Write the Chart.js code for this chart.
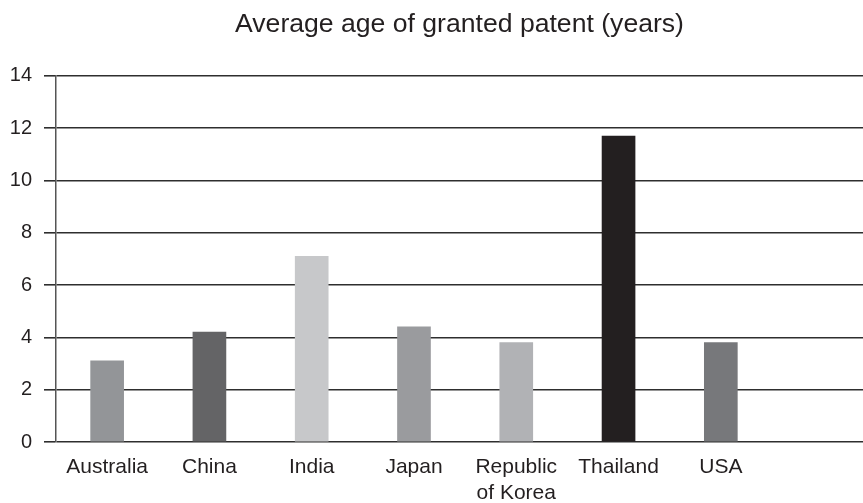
<!DOCTYPE html>
<html>
<head>
<meta charset="utf-8">
<script src="https://cdn.jsdelivr.net/npm/chart.js@4.4.1/dist/chart.umd.min.js"></script>
<style>
  html, body { margin: 0; padding: 0; background: #fff; overflow: hidden; }
  #wrap { width: 863px; height: 503px; }
</style>
</head>
<body>
<div id="wrap"><canvas id="myChart" width="863" height="503"></canvas></div>
<script>
const countries = ['Australia', 'China', 'India', 'Japan', ['Republic', 'of Korea'], 'Thailand', 'USA'];
const ages = [3.1, 4.2, 7.1, 4.4, 3.8, 11.7, 3.8];
const barColors = ['#939598', '#646466', '#c7c8ca', '#9a9b9e', '#b1b2b5', '#231f20', '#77787b'];
const yTicks = [0, 2, 4, 6, 8, 10, 12, 14];

Chart.defaults.font.family = '"Liberation Sans", Arial, sans-serif';
Chart.defaults.color = '#231f20';

const ctx = document.getElementById('myChart').getContext('2d');

const myChart = new Chart(ctx, {
    type: 'bar',
    data: {
        datasets: [{
            label: 'Average age',
            data: ages.map((v, i) => ({ x: i, y: v })),
            backgroundColor: barColors,
            borderWidth: 0,
            barThickness: 33
        }]
    },
    options: {
        responsive: false,
        devicePixelRatio: 1,
        animation: false,
        layout: { padding: 0 },
        plugins: {
            legend: { display: false },
            tooltip: { enabled: false },
            title: {
                display: true,
                text: 'Average age of granted patent (years)',
                fullSize: false,
                color: '#231f20',
                font: { size: 26.6, weight: 'normal' },
                padding: { top: 9, bottom: 35 }
            }
        },
        scales: {
            x: {
                type: 'linear',
                offset: false,
                min: -0.5,
                max: 7.39,
                grid: { display: false, drawTicks: false },
                border: { display: false },
                afterBuildTicks: axis => { axis.ticks = countries.map((c, i) => ({ value: i })); },
                afterFit: axis => { axis.height = 61; },
                ticks: {
                    autoSkip: false,
                    maxRotation: 0,
                    padding: 13,
                    font: { size: 21, lineHeight: 1.2 },
                    callback: value => countries[value]
                }
            },
            y: {
                min: 0,
                max: 14,
                afterBuildTicks: axis => { axis.ticks = yTicks.map(v => ({ value: v })); },
                afterFit: axis => { axis.width = 56; },
                grid: { color: '#2e2e2e', lineWidth: 1.6, tickLength: 12 },
                border: { color: '#555', width: 1.5 },
                ticks: { padding: 12, font: { size: 20 } }
            }
        }
    }
});
</script>
</body>
</html>
